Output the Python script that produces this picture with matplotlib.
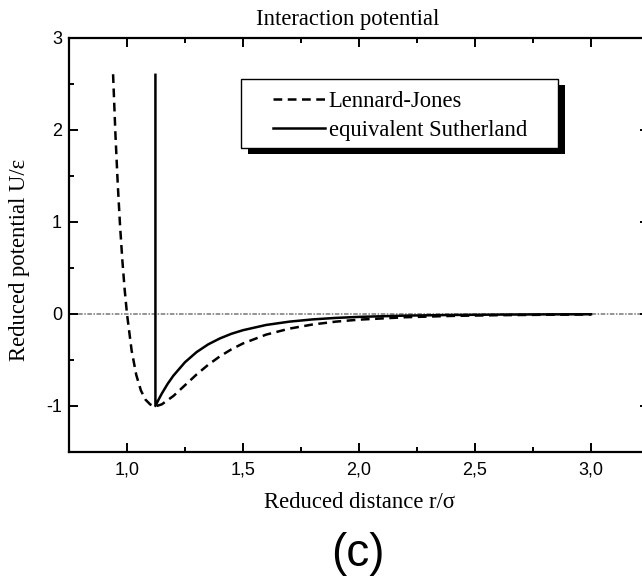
import matplotlib
matplotlib.use("Agg")
import matplotlib.pyplot as plt
from matplotlib.patches import Rectangle
from matplotlib.ticker import MultipleLocator, FuncFormatter

# ---- data ----
r_lj = [0.94, 0.95, 0.96, 0.97, 0.98, 0.99, 1.00, 1.02, 1.04, 1.06, 1.08, 1.10,
        1.11, 1.122, 1.13, 1.15, 1.20, 1.25, 1.30, 1.35, 1.40, 1.45, 1.50, 1.60,
        1.70, 1.80, 1.90, 2.00, 2.20, 2.40, 2.60, 2.80, 3.00]
u_lj = [2.606, 1.961, 1.418, 0.963, 0.582, 0.264, 0.000, -0.398, -0.663, -0.832,
        -0.932, -0.983, -0.995, -1.000, -0.998, -0.982, -0.891, -0.774, -0.657,
        -0.552, -0.461, -0.384, -0.320, -0.224, -0.159, -0.114, -0.083, -0.0615,
        -0.035, -0.0208, -0.0129, -0.0083, -0.0055]

r_su = [1.1225, 1.1225, 1.135, 1.15, 1.175, 1.20, 1.25, 1.30, 1.35, 1.40, 1.45,
        1.50, 1.60, 1.70, 1.80, 1.90, 2.00, 2.20, 2.40, 2.60, 2.80, 3.00]
u_su = [2.6, -1.000, -0.936, -0.865, -0.760, -0.670, -0.524, -0.414, -0.330,
        -0.266, -0.215, -0.176, -0.119, -0.083, -0.0588, -0.0425, -0.0313,
        -0.0176, -0.0105, -0.0065, -0.0042, -0.0027]

labels = ["Lennard-Jones", "equivalent Sutherland"]
title = "Interaction potential"
xlabel = "Reduced distance r/\u03c3"
ylabel = "Reduced potential U/\u03b5"
panel = "(c)"

W, H = 642, 577
fig = plt.figure(figsize=(W / 100, H / 100), dpi=100)
serif = ["Liberation Serif", "DejaVu Serif"]
sans = ["Liberation Sans", "DejaVu Sans"]

ax = fig.add_axes([69 / W, 1 - 452 / H, 580 / W, 414 / H])
ax.set_xlim(0.75, 3.25)
ax.set_ylim(-1.5, 3.0)

ax.axhline(0, color="#777777", lw=1.1, ls=(0, (3, 1, 1, 1)), zorder=1)
ax.plot(r_lj, u_lj, color="black", lw=1.8, ls=(0, (3.5, 2.2)), label=labels[0], zorder=3)
ax.plot(r_su, u_su, color="black", lw=1.8, ls="-", label=labels[1], zorder=3)

for s in ax.spines.values():
    s.set_linewidth(1.6)

ax.xaxis.set_major_locator(MultipleLocator(0.5))
ax.xaxis.set_minor_locator(MultipleLocator(0.25))
ax.yaxis.set_major_locator(MultipleLocator(1))
ax.yaxis.set_minor_locator(MultipleLocator(0.5))
ax.xaxis.set_major_formatter(FuncFormatter(lambda v, p: f"{v:.1f}".replace(".", ",")))
ax.yaxis.set_major_formatter(FuncFormatter(lambda v, p: f"{v:.0f}"))
ax.tick_params(which="both", direction="in", top=True, right=True, width=1.4)
ax.tick_params(which="major", length=6.5)
ax.tick_params(which="minor", length=3.5)
ax.tick_params(axis="x", which="major", pad=7)
ax.tick_params(axis="y", which="major", pad=5)
for t in ax.get_xticklabels() + ax.get_yticklabels():
    t.set_family(sans)
    t.set_fontsize(13)

# title and axis labels
fig.text(348 / W, 1 - 20 / H, title, family=serif, fontsize=16.3, ha="center", va="center")
fig.text(359 / W, 1 - 503 / H, xlabel, family=serif, fontsize=16.3, ha="center", va="center")
fig.text(20 / W, 1 - 260 / H, ylabel, family=serif, fontsize=16.3, ha="center", va="center",
         rotation=90)
fig.text(358 / W, 1 - 554 / H, panel, family=sans, fontsize=33, ha="center", va="center")

# legend frame with solid shadow
fx0, fy0, fx1, fy1 = 241, 79, 558, 148
ax.add_patch(Rectangle(((fx0 + 7) / W, 1 - (fy1 + 6) / H), (fx1 - fx0) / W, (fy1 - fy0) / H,
                       transform=fig.transFigure, facecolor="black", edgecolor="none",
                       zorder=5, clip_on=False))
ax.add_patch(Rectangle((fx0 / W, 1 - fy1 / H), (fx1 - fx0) / W, (fy1 - fy0) / H,
                       transform=fig.transFigure, facecolor="white", edgecolor="black",
                       lw=1.0, zorder=6, clip_on=False))
leg = ax.legend(loc="upper left", bbox_to_anchor=(262 / W, 1 - 80 / H),
                bbox_transform=fig.transFigure, frameon=False, borderpad=0,
                handlelength=2.3, handletextpad=0.15, labelspacing=0.35,
                prop={"family": serif, "size": 16.3})
leg.set_zorder(7)

fig.savefig("out.png", dpi=100)
